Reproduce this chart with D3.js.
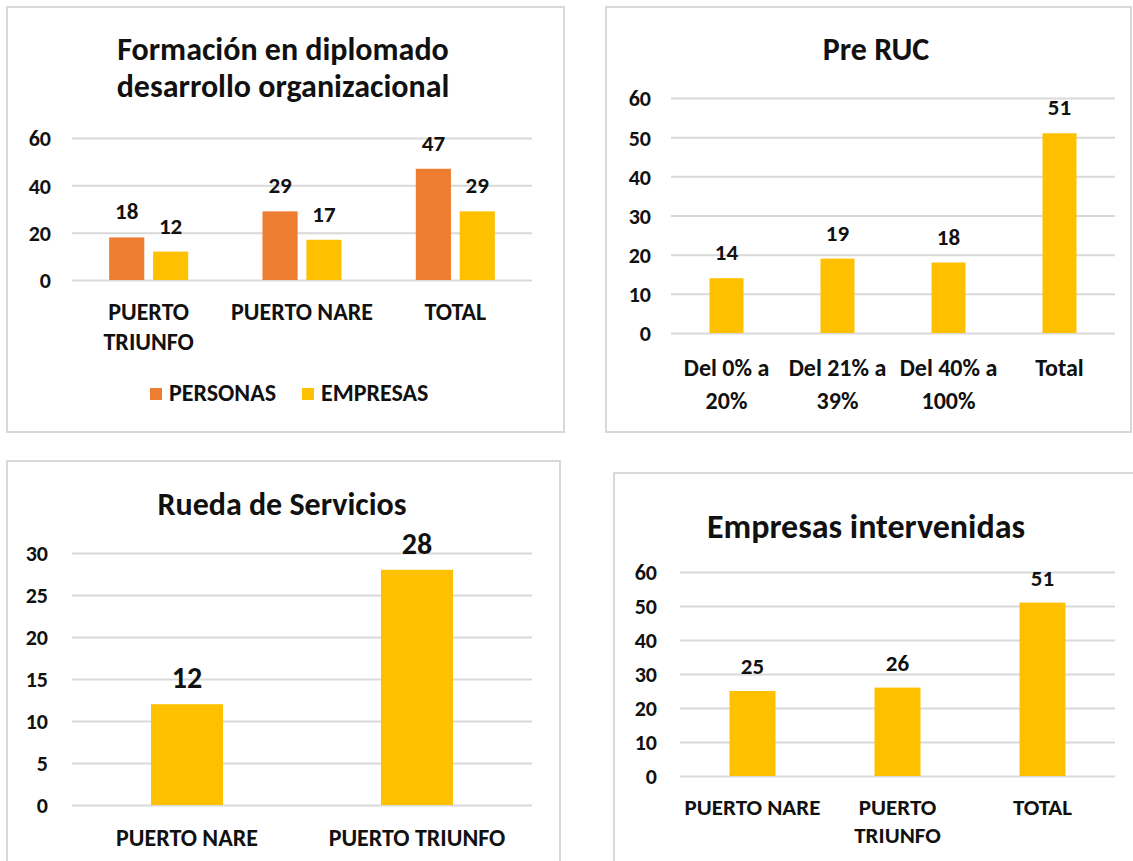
<!DOCTYPE html>
<html>
<head>
<meta charset="utf-8">
<script src="https://cdnjs.cloudflare.com/ajax/libs/d3/7.8.5/d3.min.js"></script>
<style>
  body { margin: 0; background: #fff; }
  svg text { font-family: Carlito, Lato, "Open Sans", sans-serif; font-weight: bold; fill: #111; }
</style>
</head>
<body>
<svg id="chart" width="1133" height="861"></svg>
<script>
// Formación en diplomado
const formacionCategorias = ["PUERTO TRIUNFO", "PUERTO NARE", "TOTAL"];
const formacionSeries = ["PERSONAS", "EMPRESAS"];
const formacionPersonas = [18, 29, 47];
const formacionEmpresas = [12, 17, 29];
const formacionTicks = [0, 20, 40, 60];

// Pre RUC
const preRucCategorias = ["Del 0% a 20%", "Del 21% a 39%", "Del 40% a 100%", "Total"];
const preRucValores = [14, 19, 18, 51];
const preRucTicks = [0, 10, 20, 30, 40, 50, 60];

// Rueda de Servicios
const ruedaCategorias = ["PUERTO NARE", "PUERTO TRIUNFO"];
const ruedaValores = [12, 28];
const ruedaTicks = [0, 5, 10, 15, 20, 25, 30];

// Empresas intervenidas
const empresasCategorias = ["PUERTO NARE", "PUERTO TRIUNFO", "TOTAL"];
const empresasValores = [25, 26, 51];
const empresasTicks = [0, 10, 20, 30, 40, 50, 60];

const ORANGE = "#ED7D31";
const YELLOW = "#FFC000";
const GRID = "#D9D9D9";

const svg = d3.select("#chart");

// wrap a label into lines that fit maxW
function wrapLines(label, maxW, size) {
  const tmp = svg.append("text").style("font-size", size + "px");
  const words = label.split(" ");
  const lines = [];
  let cur = "";
  words.forEach(w => {
    const test = cur ? cur + " " + w : w;
    tmp.text(test);
    if (cur && tmp.node().getComputedTextLength() > maxW) {
      lines.push(cur);
      cur = w;
    } else {
      cur = test;
    }
  });
  lines.push(cur);
  tmp.remove();
  return lines;
}

function drawPanel(o) {
  const g = svg.append("g");

  g.append("rect")
    .attr("x", o.box[0]).attr("y", o.box[1])
    .attr("width", o.box[2] - o.box[0]).attr("height", o.box[3] - o.box[1])
    .attr("fill", "#fff").attr("stroke", GRID).attr("stroke-width", 2);

  o.title.forEach((t, i) => {
    g.append("text")
      .attr("x", o.titleX).attr("y", o.titleY + i * 37)
      .attr("text-anchor", "middle")
      .style("font-size", o.titleSize + "px")
      .text(t);
  });

  const y = d3.scaleLinear()
    .domain([0, d3.max(o.ticks)])
    .range([o.bottom, o.top]);

  const x = d3.scaleBand()
    .domain(o.categories)
    .range([o.left, o.right])
    .paddingInner(o.pad)
    .paddingOuter(o.pad / 2);

  // gridlines + y labels
  const yAxis = g.append("g")
    .attr("transform", `translate(${o.left},0)`)
    .call(d3.axisLeft(y).tickValues(o.ticks).tickSize(-(o.right - o.left)).tickPadding(0));
  yAxis.select(".domain").remove();
  yAxis.selectAll(".tick line").attr("stroke", GRID).attr("stroke-width", 2);
  yAxis.selectAll(".tick text")
    .attr("x", o.tickRight - o.left)
    .attr("dy", "0.36em")
    .style("font-size", "22px")
    .style("font-family", "Carlito, Lato, sans-serif")
    .style("font-weight", "bold")
    .style("fill", "#111");

  // bars
  const sub = d3.scaleBand()
    .domain(d3.range(o.series.length))
    .range([0, x.bandwidth()])
    .paddingInner(o.subPad || 0);

  o.series.forEach((vals, si) => {
    g.append("g")
      .attr("fill", o.colors[si])
      .selectAll("rect")
      .data(vals)
      .join("rect")
      .attr("x", (d, i) => x(o.categories[i]) + sub(si))
      .attr("y", d => y(d))
      .attr("width", sub.bandwidth())
      .attr("height", d => y(0) - y(d));

    g.append("g")
      .selectAll("text")
      .data(vals)
      .join("text")
      .attr("x", (d, i) => x(o.categories[i]) + sub(si) + sub.bandwidth() / 2)
      .attr("y", d => y(d) - o.valueGap)
      .attr("text-anchor", "middle")
      .style("font-size", o.valueSize + "px")
      .text(d => d);
  });

  // category labels
  o.categories.forEach(c => {
    const lines = wrapLines(c, x.step(), o.catSize);
    const t = g.append("text")
      .attr("text-anchor", "middle")
      .style("font-size", o.catSize + "px");
    lines.forEach((l, i) => {
      t.append("tspan")
        .attr("x", x(c) + x.bandwidth() / 2)
        .attr("y", o.catY + i * o.lineH)
        .text(l);
    });
  });

  return g;
}

// panel 1
const p1 = drawPanel({
  box: [7, 7, 564, 432],
  title: ["Formación en diplomado", "desarrollo organizacional"],
  titleX: 283, titleY: 60, titleSize: 32,
  left: 72, right: 532, top: 138, bottom: 280,
  ticks: formacionTicks, tickRight: 51,
  categories: formacionCategorias,
  series: [formacionPersonas, formacionEmpresas],
  colors: [ORANGE, YELLOW],
  pad: 1 - 79 / 153.3, subPad: 0.2,
  valueSize: 23, valueGap: 18,
  catSize: 24, catY: 320, lineH: 30
});

// legend
const legendX = [150, 302];
formacionSeries.forEach((s, i) => {
  p1.append("rect")
    .attr("x", legendX[i]).attr("y", 388)
    .attr("width", 12).attr("height", 12)
    .attr("fill", [ORANGE, YELLOW][i]);
  p1.append("text")
    .attr("x", legendX[i] + 19).attr("y", 401)
    .style("font-size", "24px")
    .text(s);
});

// panel 2
drawPanel({
  box: [606, 7, 1131, 432],
  title: ["Pre RUC"],
  titleX: 876, titleY: 60, titleSize: 32,
  left: 671, right: 1115, top: 98, bottom: 333,
  ticks: preRucTicks, tickRight: 651,
  categories: preRucCategorias,
  series: [preRucValores],
  colors: [YELLOW],
  pad: 1 - 34 / 111,
  valueSize: 23, valueGap: 18,
  catSize: 24, catY: 376, lineH: 33
});

// panel 3
drawPanel({
  box: [7, 461, 560, 875],
  title: ["Rueda de Servicios"],
  titleX: 282, titleY: 515, titleSize: 32,
  left: 72, right: 532, top: 553, bottom: 805,
  ticks: ruedaTicks, tickRight: 48,
  categories: ruedaCategorias,
  series: [ruedaValores],
  colors: [YELLOW],
  pad: 1 - 72 / 230,
  valueSize: 30, valueGap: 16,
  catSize: 24, catY: 846, lineH: 30
});

// panel 4
drawPanel({
  box: [614, 473, 1145, 875],
  title: ["Empresas intervenidas"],
  titleX: 866, titleY: 538, titleSize: 34,
  left: 680, right: 1115, top: 572, bottom: 776,
  ticks: empresasTicks, tickRight: 657,
  categories: empresasCategorias,
  series: [empresasValores],
  colors: [YELLOW],
  pad: 1 - 46 / 145,
  valueSize: 23, valueGap: 17,
  catSize: 23, catY: 815, lineH: 28
});
</script>
</body>
</html>
